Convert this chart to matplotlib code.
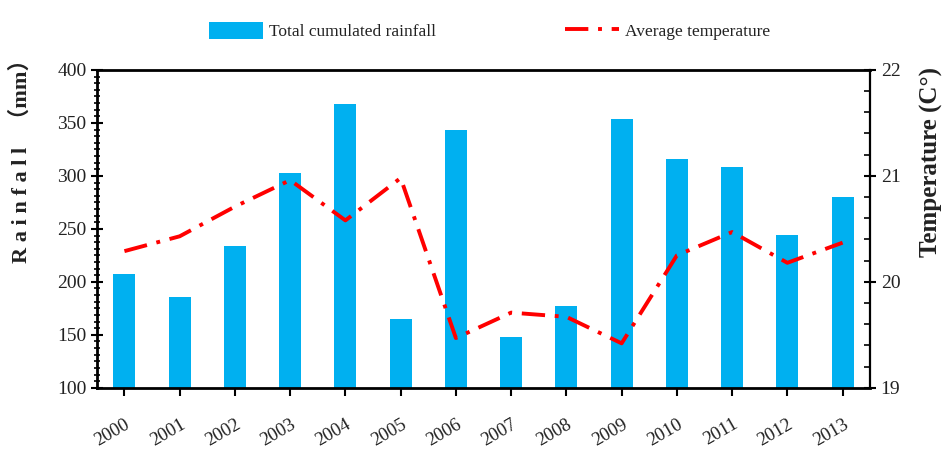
import matplotlib
matplotlib.use("Agg")
import matplotlib.pyplot as plt
from matplotlib.ticker import MultipleLocator, AutoMinorLocator
from matplotlib.lines import Line2D
from matplotlib.patches import Patch

plt.rcParams['font.family'] = ['Liberation Serif', 'DejaVu Serif']

years = ['2000', '2001', '2002', '2003', '2004', '2005', '2006',
         '2007', '2008', '2009', '2010', '2011', '2012', '2013']
rainfall = [207, 186, 234, 303, 368, 165, 343, 148, 177, 354, 316, 308, 244, 280]
temperature = [20.29, 20.43, 20.71, 20.96, 20.58, 20.98, 19.47,
               19.71, 19.67, 19.42, 20.25, 20.47, 20.18, 20.37]

bar_color = '#00B0F0'
line_color = '#FF0000'
text_color = '#222222'
dash = (0, (6, 2.5, 1, 2.5))

fig = plt.figure(figsize=(9.49, 4.51), dpi=100)
ax = fig.add_axes([0.102, 0.140, 0.815, 0.705])
x = list(range(len(years)))

ax.bar(x, rainfall, width=0.4, color=bar_color, zorder=2)
ax.set_xlim(-0.5, 13.5)
ax.set_ylim(100, 400)
ax.yaxis.set_major_locator(MultipleLocator(50))
ax.yaxis.set_minor_locator(AutoMinorLocator(8))
ax.set_xticks(x)
ax.set_xticklabels(years, rotation=30, ha='right', rotation_mode='anchor',
                   fontsize=13.5, color=text_color)
ax.tick_params(axis='x', which='major', direction='out', length=6, width=1.5, pad=14)
ax.tick_params(axis='y', which='major', direction='inout', length=8, width=1.5,
               labelsize=14, colors='black', labelcolor=text_color)
ax.tick_params(axis='y', which='minor', direction='inout', length=4, width=1.2)
for s in ['left', 'bottom', 'top']:
    ax.spines[s].set_linewidth(2)
ax.spines['right'].set_visible(False)

ax2 = ax.twinx()
ax2.plot(x, temperature, color=line_color, lw=2.8, linestyle=dash, zorder=3)
ax2.set_ylim(19, 22)
ax2.yaxis.set_major_locator(MultipleLocator(1))
ax2.yaxis.set_minor_locator(AutoMinorLocator(5))
ax2.tick_params(axis='y', which='major', direction='inout', length=8, width=1.5,
                labelsize=14, labelcolor=text_color)
ax2.tick_params(axis='y', which='minor', direction='in', length=4, width=1.2)
for s in ['left', 'bottom', 'top']:
    ax2.spines[s].set_visible(False)
ax2.spines['right'].set_linewidth(1.6)

fig.text(0.022, 0.656, 'R a i n f a l l   （mm）', rotation=90, ha='center', va='center',
         fontsize=16, fontweight='bold', color=text_color,
         family=['Liberation Serif', 'Noto Sans CJK SC'])
fig.text(0.982, 0.640, 'Temperature (C°)', rotation=90, ha='center', va='center',
         fontsize=18, fontweight='bold', color=text_color)

handles = [Patch(facecolor=bar_color, edgecolor='none'),
           Line2D([0], [0], color=line_color, lw=2.8, linestyle=dash)]
fig.legend(handles, ['Total cumulated rainfall', 'Average temperature'],
           loc='center', bbox_to_anchor=(0.516, 0.931), ncol=2, frameon=False,
           fontsize=12.5, handlelength=3.1, handleheight=1.1, columnspacing=7.4,
           handletextpad=0.35, labelcolor=text_color)

fig.savefig('out.png', dpi=100)
